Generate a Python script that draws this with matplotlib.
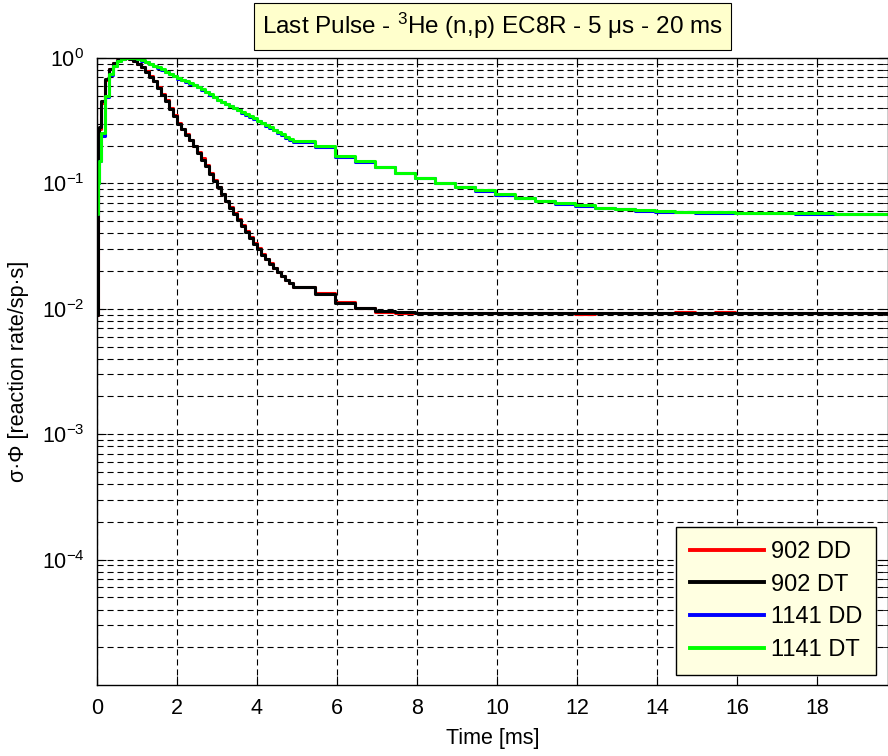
import numpy as np
import matplotlib
matplotlib.use("Agg")
from matplotlib import pyplot as plt
from matplotlib.ticker import LogLocator, NullFormatter

plt.rcParams['font.family'] = ['Liberation Sans', 'DejaVu Sans']
plt.rcParams['mathtext.default'] = 'regular'

# bin start times [ms]
t = [0, 0.02, 0.05, 0.1, 0.2, 0.3, 0.4, 0.5, 0.6, 0.7,
     0.8, 0.9, 1.0, 1.1, 1.2, 1.3, 1.4, 1.5, 1.6, 1.7,
     1.8, 1.9, 2.0, 2.1, 2.2, 2.3, 2.4, 2.5, 2.6, 2.7,
     2.8, 2.9, 3.0, 3.1, 3.2, 3.3, 3.4, 3.5, 3.6, 3.7,
     3.8, 3.9, 4.0, 4.1, 4.2, 4.3, 4.4, 4.5, 4.6, 4.7,
     4.8, 4.9, 5.45, 5.95, 6.45, 6.95, 7.45, 7.95, 8.45, 8.95,
     9.45, 9.95, 10.45, 10.95, 11.45, 11.95, 12.45, 12.95, 13.45, 13.95,
     14.45, 14.95, 15.45, 15.95, 16.45, 16.95, 17.45, 17.95, 18.45, 18.95,
     19.45, 19.95]

dd_902 = [0.009, 0.14, 0.27, 0.44, 0.67, 0.81, 0.92, 0.97, 0.99, 1.0,
          0.985, 0.95, 0.90, 0.85, 0.79, 0.72, 0.66, 0.59, 0.52, 0.46,
          0.40, 0.35, 0.305, 0.272, 0.247, 0.223, 0.199, 0.178, 0.158, 0.139,
          0.121, 0.106, 0.094, 0.083, 0.073, 0.065, 0.058, 0.052, 0.0465, 0.0415,
          0.0375, 0.0335, 0.0303, 0.0273, 0.025, 0.023, 0.0212, 0.0196, 0.0183, 0.0171,
          0.016, 0.0149, 0.0133, 0.0114, 0.0101, 0.0095, 0.0093, 0.0092, 0.0093, 0.0092,
          0.0093, 0.0092, 0.0092, 0.0093, 0.0092, 0.0091, 0.0092, 0.0093, 0.0093, 0.0092,
          0.0094, 0.0093, 0.0094, 0.0092, 0.0092, 0.0093, 0.0092, 0.0092, 0.0093, 0.0093,
          0.0092, 0.0092]

dt_902 = [0.009, 0.15, 0.28, 0.45, 0.68, 0.82, 0.92, 0.97, 0.995, 1.0,
          0.98, 0.94, 0.89, 0.84, 0.78, 0.71, 0.65, 0.58, 0.51, 0.45,
          0.395, 0.345, 0.30, 0.27, 0.245, 0.22, 0.197, 0.175, 0.155, 0.137,
          0.119, 0.105, 0.093, 0.082, 0.072, 0.064, 0.057, 0.051, 0.046, 0.041,
          0.037, 0.033, 0.030, 0.027, 0.0248, 0.0228, 0.021, 0.0195, 0.0182, 0.017,
          0.016, 0.0148, 0.0132, 0.0112, 0.0101, 0.0096, 0.0094, 0.0093, 0.0093, 0.0093,
          0.0093, 0.0092, 0.0093, 0.0093, 0.0093, 0.0093, 0.0093, 0.0093, 0.0093, 0.0093,
          0.0093, 0.0093, 0.0093, 0.0093, 0.0093, 0.0093, 0.0093, 0.0093, 0.0093, 0.0093,
          0.0093, 0.0093]

dd_1141 = [0.057, 0.10, 0.15, 0.24, 0.49, 0.73, 0.86, 0.94, 0.98, 0.995,
           1.0, 1.0, 0.98, 0.955, 0.93, 0.895, 0.865, 0.835, 0.805, 0.775,
           0.745, 0.715, 0.685, 0.665, 0.645, 0.625, 0.605, 0.585, 0.56, 0.535,
           0.51, 0.485, 0.46, 0.443, 0.427, 0.412, 0.397, 0.382, 0.367, 0.352,
           0.339, 0.327, 0.314, 0.302, 0.289, 0.277, 0.265, 0.254, 0.243, 0.232,
           0.222, 0.212, 0.194, 0.163, 0.148, 0.134, 0.12, 0.11, 0.10, 0.093,
           0.087, 0.081, 0.076, 0.072, 0.069, 0.066, 0.064, 0.062, 0.0605, 0.0595,
           0.059, 0.0585, 0.0585, 0.058, 0.058, 0.058, 0.0575, 0.0575, 0.0575, 0.0575,
           0.0572, 0.0572]

dt_1141 = [0.057, 0.10, 0.15, 0.25, 0.50, 0.74, 0.87, 0.94, 0.98, 0.995,
           1.0, 1.0, 0.985, 0.96, 0.935, 0.90, 0.87, 0.84, 0.81, 0.78,
           0.75, 0.72, 0.69, 0.67, 0.65, 0.63, 0.61, 0.59, 0.565, 0.54,
           0.515, 0.49, 0.465, 0.447, 0.43, 0.415, 0.40, 0.385, 0.37, 0.355,
           0.342, 0.33, 0.317, 0.305, 0.292, 0.28, 0.268, 0.257, 0.246, 0.236,
           0.226, 0.216, 0.197, 0.165, 0.15, 0.135, 0.12, 0.11, 0.10, 0.094,
           0.088, 0.082, 0.077, 0.073, 0.070, 0.067, 0.064, 0.0625, 0.061, 0.060,
           0.0595, 0.059, 0.059, 0.0585, 0.0585, 0.058, 0.058, 0.058, 0.0575, 0.0575,
           0.0575, 0.0575]

series = [("902 DD", dd_902, "#ff0000"),
          ("902 DT", dt_902, "#000000"),
          ("1141 DD", dd_1141, "#0000ff"),
          ("1141 DT", dt_1141, "#00ff00")]

fig = plt.figure(figsize=(8.88, 7.56), dpi=100)
ax = fig.add_axes([97 / 888, 71 / 756, 791 / 888, 627 / 756])

for name, vals, col in series:
    ax.step(t, vals, where='post', color=col, lw=2.2, label=name)

ax.set_yscale('log')
ax.set_xlim(0, 19.78)
ax.set_ylim(1e-5, 1)
ax.set_xticks(np.arange(0, 19, 2))
ax.set_yticks([1e-4, 1e-3, 1e-2, 1e-1, 1])
ax.yaxis.set_minor_locator(LogLocator(base=10, subs=np.arange(2, 10)))
ax.yaxis.set_minor_formatter(NullFormatter())

dash = (0, (5.5, 3.5))
ax.grid(True, which='major', axis='both', color='k', lw=0.8, linestyle=dash)
ax.grid(True, which='minor', axis='y', color='k', lw=0.8, linestyle=dash)
ax.set_axisbelow(True)

ax.tick_params(which='both', direction='in', top=True, right=True,
               labelsize=15.5, pad=9)
ax.tick_params(which='major', length=6.5)
ax.tick_params(which='minor', length=3.5)
for s in ax.spines.values():
    s.set_linewidth(1.0)

ax.set_xlabel('Time [ms]', fontsize=15.5, labelpad=7)
ax.set_ylabel('σ·Φ [reaction rate/sp·s]', fontsize=15.5, labelpad=9)
ax.set_title(r'Last Pulse - $^{3}$He (n,p) EC8R - 5 μs - 20 ms', fontsize=17.5,
             pad=17, bbox=dict(facecolor='#ffffcc', edgecolor='k', lw=0.8,
                               boxstyle='square,pad=0.33'))

leg = ax.legend(loc='lower right', bbox_to_anchor=(0.985, 0.016),
                borderaxespad=0, fontsize=17, handlelength=3.1,
                handletextpad=0.3, labelspacing=0.45, fancybox=False,
                framealpha=1, edgecolor='k', facecolor='#ffffe1',
                borderpad=0.6)
leg.get_frame().set_linewidth(1.0)
for line in leg.get_lines():
    line.set_linewidth(2.8)

fig.savefig('out.png', dpi=100)
